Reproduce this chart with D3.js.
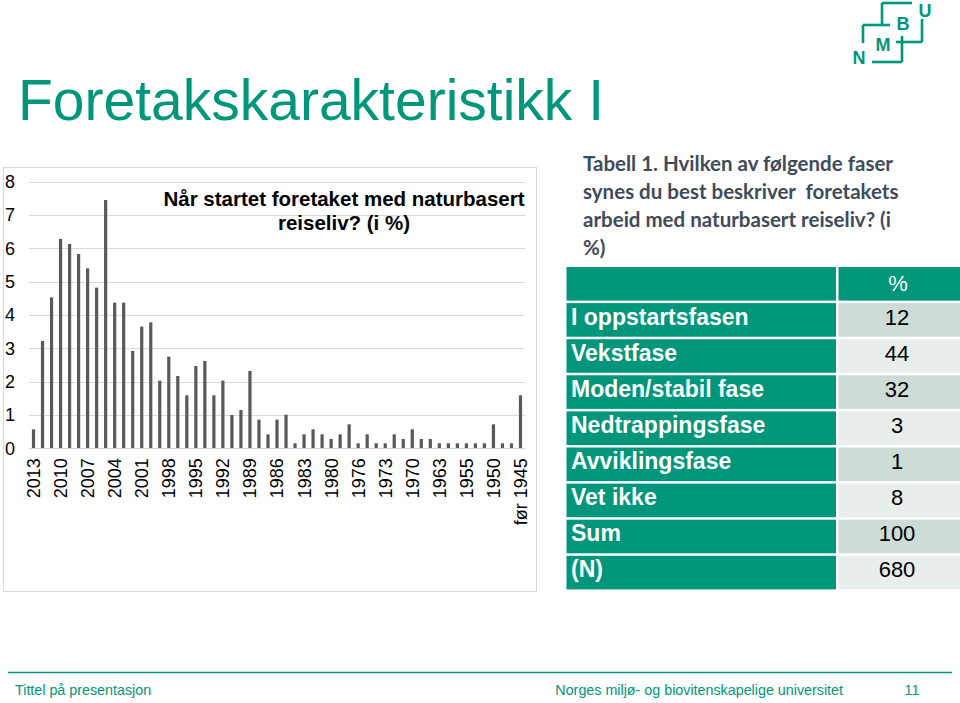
<!DOCTYPE html>
<html>
<head>
<meta charset="utf-8">
<script src="https://cdn.jsdelivr.net/npm/d3@7/dist/d3.min.js"></script>
<style>
  html, body { margin: 0; padding: 0; background: #ffffff; }
  svg { display: block; }
</style>
</head>
<body>
<script>
// ---------- DATA ----------
const categories = ["2013","2012","2011","2010","2009","2008","2007","2006","2005","2004",
  "2003","2002","2001","2000","1999","1998","1997","1996","1995","1994",
  "1993","1992","1991","1990","1989","1988","1987","1986","1985","1984",
  "1983","1982","1981","1980","1978","1977","1976","1975","1974","1973",
  "1972","1971","1970","1968","1965","1963","1960","1958","1955","1953",
  "1952","1950","1948","1946","før 1945"];
const values = [0.57,3.22,4.53,6.28,6.13,5.83,5.40,4.82,7.45,4.37,
  4.37,2.92,3.65,3.78,2.03,2.75,2.17,1.59,2.47,2.62,
  1.59,2.03,1.00,1.15,2.32,0.86,0.42,0.86,1.01,0.15,
  0.42,0.57,0.42,0.28,0.42,0.72,0.15,0.42,0.15,0.15,
  0.42,0.28,0.57,0.28,0.28,0.15,0.15,0.15,0.15,0.15,
  0.15,0.72,0.15,0.15,1.59];
const xTickLabels = ["2013","2010","2007","2004","2001","1998","1995","1992","1989","1986",
  "1983","1980","1976","1973","1970","1963","1955","1950","før 1945"];
const yTicks = [0,1,2,3,4,5,6,7,8];
const chartTitleLines = ["Når startet foretaket med naturbasert", "reiseliv? (i %)"];

const tableTitleLines = ["Tabell 1. Hvilken av følgende faser",
  "synes du best beskriver  foretakets",
  "arbeid med naturbasert reiseliv? (i",
  "%)"];
const tableHeader = ["", "%"];
const phases = ["I oppstartsfasen","Vekstfase","Moden/stabil fase","Nedtrappingsfase",
  "Avviklingsfase","Vet ikke","Sum","(N)"];
const percents = [12,44,32,3,1,8,100,680];

const pageTitle = "Foretakskarakteristikk I";
const footerLeft = "Tittel på presentasjon";
const footerMid = "Norges miljø- og biovitenskapelige universitet";
const footerPage = "11";

// ---------- STYLE ----------
const green = "#00967b";
const W = 960, H = 703;
const sans = "Arial, 'Liberation Sans', Helvetica, sans-serif";

const svg = d3.select("body").append("svg").attr("width", W).attr("height", H)
  .attr("font-family", sans);

// Page title
svg.append("text").attr("x", 18).attr("y", 120)
  .attr("font-size", 57).attr("fill", green).text(pageTitle);

// Logo (NMBU)
const logo = svg.append("g").attr("stroke", green).attr("stroke-width", 2.6).attr("fill", "none");
[[882,3,912,3],[882,3,882,25],[863,25,890,25],[863,25,863,43],
 [922,19,922,42],[896,42,922,42],[902,36,902,62],[872,62,902,62]].forEach(l => {
  logo.append("line").attr("x1", l[0]).attr("y1", l[1]).attr("x2", l[2]).attr("y2", l[3]);
});
const logoT = svg.append("g").attr("fill", green).attr("font-weight", "bold").attr("font-size", 18)
  .attr("text-anchor", "middle");
logoT.append("text").attr("x", 925).attr("y", 17).text("U");
logoT.append("text").attr("x", 903).attr("y", 30).text("B");
logoT.append("text").attr("x", 883).attr("y", 51).text("M");
logoT.append("text").attr("x", 859).attr("y", 64).text("N");

// ---------- CHART ----------
svg.append("rect").attr("x", 3.5).attr("y", 167.5).attr("width", 533).attr("height", 424)
  .attr("fill", "#fff").attr("stroke", "#d9d9d9").attr("stroke-width", 1);

const x = d3.scaleBand().domain(categories).range([29, 525]).padding(0);
const y = d3.scaleLinear().domain([0, 8]).range([448.3, 181.7]);

// gridlines
svg.append("g").selectAll("line").data(yTicks.filter(d => d > 0)).join("line")
  .attr("x1", 29).attr("x2", 525)
  .attr("y1", d => Math.round(y(d)) + 0.5).attr("y2", d => Math.round(y(d)) + 0.5)
  .attr("stroke", "#d9d9d9").attr("stroke-width", 1);

// y axis labels
const yAxis = svg.append("g").attr("transform", "translate(29,0)")
  .call(d3.axisLeft(y).tickValues(yTicks).tickSize(0).tickPadding(14).tickFormat(d3.format("d")));
yAxis.select(".domain").remove();
yAxis.attr("font-size", null).attr("font-family", null);
yAxis.selectAll("text").attr("font-size", 18).attr("fill", "#000");

// bars
const barW = 3.2;
svg.append("g").selectAll("rect").data(values).join("rect")
  .attr("x", (d, i) => x(categories[i]) + x.bandwidth() / 2 - barW / 2)
  .attr("y", d => y(d))
  .attr("width", barW)
  .attr("height", d => y(0) - y(d))
  .attr("fill", "#595959");

// zero axis line
svg.append("line").attr("x1", 29).attr("x2", 525)
  .attr("y1", Math.round(y(0)) + 0.5).attr("y2", Math.round(y(0)) + 0.5)
  .attr("stroke", "#d0d0d0").attr("stroke-width", 1);

// x axis labels
const xAxis = svg.append("g").attr("transform", `translate(0,${y(0)})`)
  .call(d3.axisBottom(x).tickValues(xTickLabels).tickSize(0).tickPadding(0));
xAxis.select(".domain").remove();
xAxis.attr("font-size", null).attr("font-family", null);
xAxis.selectAll("text")
  .attr("font-size", 18).attr("fill", "#000")
  .attr("text-anchor", "end")
  .attr("transform", "translate(0,10) rotate(-90)")
  .attr("x", 0).attr("y", 0).attr("dy", "0.36em");

// chart title
const ct = svg.append("text").attr("text-anchor", "middle").attr("font-weight", "bold")
  .attr("font-size", 20.5).attr("fill", "#000");
chartTitleLines.forEach((t, i) => {
  ct.append("tspan").attr("x", 344).attr("y", 206 + i * 24).text(t);
});

// ---------- TABLE ----------
const tt = svg.append("text").attr("font-family", "Lato, 'Open Sans', sans-serif")
  .attr("font-weight", "bold").attr("font-size", 20.5).attr("fill", "#3e4b5b")
  .attr("xml:space", "preserve");
tableTitleLines.forEach((t, i) => {
  tt.append("tspan").attr("x", 583).attr("y", 171 + i * 28).text(t);
});

const rowY = d3.scaleLinear().domain([0, 1]).range([267, 267 + 36.1]);
const rowH = 33.6;
const colL = 566.5, colLW = 269.5, colR = 838.5, colRW = 121.5;
const darkCell = "#cddcd6", lightCell = "#e8eeeb";

// header
svg.append("rect").attr("x", colL).attr("y", rowY(0)).attr("width", colLW).attr("height", rowH).attr("fill", green);
svg.append("rect").attr("x", colR).attr("y", rowY(0)).attr("width", colRW).attr("height", rowH).attr("fill", green);
svg.append("text").attr("x", 898).attr("y", rowY(0) + 24).attr("text-anchor", "middle")
  .attr("font-size", 22).attr("fill", "#fff").text(tableHeader[1]);

const rows = svg.append("g").selectAll("g").data(phases).join("g");
rows.append("rect").attr("x", colL).attr("y", (d, i) => rowY(i + 1))
  .attr("width", colLW).attr("height", rowH).attr("fill", green);
rows.append("rect").attr("x", colR).attr("y", (d, i) => rowY(i + 1))
  .attr("width", colRW).attr("height", rowH).attr("fill", (d, i) => i % 2 === 0 ? darkCell : lightCell);
rows.append("text").attr("x", 571).attr("y", (d, i) => rowY(i + 1) + 21.5)
  .attr("font-size", 23).attr("font-weight", "bold").attr("fill", "#fff").text(d => d);
rows.append("text").attr("x", 897).attr("y", (d, i) => rowY(i + 1) + 21.5)
  .attr("text-anchor", "middle").attr("font-size", 22).attr("fill", "#000")
  .text((d, i) => percents[i]);

// ---------- FOOTER ----------
svg.append("line").attr("x1", 8).attr("x2", 952).attr("y1", 672.5).attr("y2", 672.5)
  .attr("stroke", green).attr("stroke-width", 1.5);
svg.append("text").attr("x", 15).attr("y", 695).attr("font-size", 14.3).attr("fill", green).text(footerLeft);
svg.append("text").attr("x", 843).attr("y", 695).attr("text-anchor", "end").attr("font-size", 14.3)
  .attr("fill", green).text(footerMid);
svg.append("text").attr("x", 912).attr("y", 695).attr("text-anchor", "middle").attr("font-size", 14.3)
  .attr("fill", green).text(footerPage);
</script>
</body>
</html>
